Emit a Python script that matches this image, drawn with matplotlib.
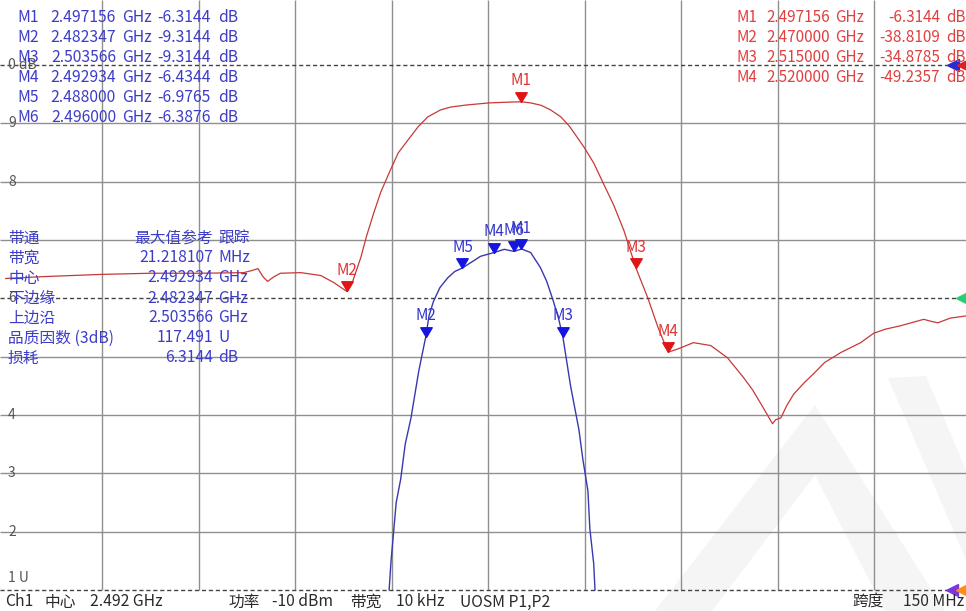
"""VNA screen capture: bandpass filter S21 (blue, 2 dB/div) and S11 (red, 10 dB/div)."""
import numpy as np
import matplotlib
matplotlib.use("Agg")
import matplotlib.pyplot as plt
from matplotlib.patches import Polygon

plt.rcParams['font.family'] = ['Noto Sans CJK SC', 'DejaVu Sans']

# --- data ---------------------------------------------------------------------
CENTER_MHZ = 2492.0
SPAN_MHZ = 150.0

# red trace (reflection), MHz / dB
red_f = [2417.0, 2422.4, 2431.8, 2439.5, 2447.3, 2454.0, 2455.4, 2456.2, 2457.0,
         2457.7, 2458.7, 2459.7, 2462.9, 2466.0, 2468.0, 2470.0, 2470.9, 2472.2,
         2473.1, 2474.2, 2475.3, 2476.8, 2478.0, 2479.5, 2481.1, 2482.6, 2484.6,
         2486.2, 2488.6, 2492.1, 2495.6, 2497.2, 2498.6, 2500.2, 2501.7, 2503.3,
         2504.7, 2506.9, 2508.4, 2509.9, 2511.5, 2513.1, 2515.0, 2516.8, 2518.4,
         2519.4, 2520.0, 2520.9, 2521.9, 2523.9, 2526.6, 2529.2, 2531.7, 2533.1,
         2534.4, 2535.3, 2536.2, 2536.7, 2537.5, 2538.4, 2539.5, 2541.1, 2542.6,
         2544.3, 2546.8, 2549.9, 2551.9, 2553.7, 2556.1, 2558.4, 2559.7, 2560.7,
         2561.9, 2563.8, 2567.0]
red_db = [-36.6, -36.3, -35.9, -35.7, -35.7, -35.6, -35.2, -34.9, -36.3,
          -37.1, -36.3, -35.7, -35.6, -36.1, -37.3, -38.8, -37.2, -33.0,
          -29.3, -25.4, -21.8, -18.0, -15.1, -12.9, -10.6, -8.9, -7.7,
          -7.2, -6.86, -6.5, -6.35, -6.31, -6.5, -6.9, -7.7, -8.9,
          -10.6, -14.1, -16.8, -20.3, -24.0, -28.4, -34.9, -39.9, -45.0,
          -47.7, -49.2, -48.9, -48.5, -47.6, -48.1, -50.2, -53.6, -55.7,
          -58.1, -59.8, -61.5, -60.8, -60.5, -58.4, -56.4, -54.5, -52.9,
          -51.0, -49.3, -47.6, -46.0, -45.3, -44.7, -44.0, -43.6, -43.9,
          -44.2, -43.4, -42.9]

# blue trace (transmission), MHz / dB
blue_f = [2476.6, 2476.9, 2477.3, 2477.7, 2478.4, 2479.1, 2480.0, 2481.2, 2482.3,
          2482.8, 2483.5, 2484.5, 2485.7, 2486.8, 2488.0, 2490.8, 2492.9, 2494.5,
          2496.0, 2497.2, 2498.6, 2500.1, 2501.1, 2502.1, 2502.9, 2503.6, 2504.8,
          2506.1, 2506.7, 2507.5, 2507.8, 2508.4, 2508.6]
blue_db = [-18.0, -17.0, -16.0, -15.0, -14.2, -13.0, -12.1, -10.5, -9.31,
           -8.6, -8.1, -7.63, -7.3, -7.08, -6.96, -6.56, -6.43, -6.32,
           -6.39, -6.31, -6.43, -6.94, -7.42, -8.08, -8.66, -9.31, -11.0,
           -12.5, -13.5, -14.6, -15.9, -17.1, -18.0]

blue_mk_names = ["M1", "M2", "M3", "M4", "M5", "M6"]
blue_mk_f = ["2.497156", "2.482347", "2.503566", "2.492934", "2.488000", "2.496000"]
blue_mk_db = ["-6.3144", "-9.3144", "-9.3144", "-6.4344", "-6.9765", "-6.3876"]

red_mk_names = ["M1", "M2", "M3", "M4"]
red_mk_f = ["2.497156", "2.470000", "2.515000", "2.520000"]
red_mk_db = ["-6.3144", "-38.8109", "-34.8785", "-49.2357"]

bw_labels = ["带通", "带宽", "中心", "下边缘", "上边沿", "品质因数 (3dB)", "损耗"]
bw_values = ["最大值参考", "21.218107", "2.492934", "2.482347", "2.503566", "117.491", "6.3144"]
bw_units = ["跟踪", "MHz", "GHz", "GHz", "GHz", "U", "dB"]

scale_labels = ["0 dB", "9", "8", "6", "4", "3", "2", "1 U"]
scale_rows = [0, 1, 2, 4, 6, 7, 8, 9]

# --- screen geometry ------------------------------------------------------------
W, H = 966, 611
X0 = 5.7                 # pixel of the left grid edge
PX_DIV_X = 96.5
Y_REF = 65.0             # pixel of the 0 dB reference line
PX_DIV_Y = 58.33
RED_DIV, BLUE_DIV = 10.0, 2.0
FS = 11.3

f_lo = CENTER_MHZ - SPAN_MHZ / 2
mhz_px = PX_DIV_X / (SPAN_MHZ / 10)

def px2f(x):
    return f_lo + (x - X0) / mhz_px

def py2red(y):
    return -(y - Y_REF) / PX_DIV_Y * RED_DIV

RED_C = '#c83838'
BLUE_C = '#3838b0'
GRID_C = '#8f8f8f'

fig = plt.figure(figsize=(W / 100, H / 100), dpi=100)
ax = fig.add_axes([0, 0, 1, 1])
ax.set_xlim(px2f(0), px2f(W))
ax.set_ylim(py2red(H), py2red(0))
ax.axis('off')

ax2 = ax.twinx()
ax2.set_position([0, 0, 1, 1])
ax2.set_ylim(-(H - Y_REF) / PX_DIV_Y * BLUE_DIV, Y_REF / PX_DIV_Y * BLUE_DIV)
ax2.axis('off')

y_top = ax.get_ylim()[1]
y_bot = -9 * RED_DIV

# faint watermark in the lower right corner
for shape in ([(815, 405), (655, 611), (712, 611), (815, 475), (885, 611), (945, 611)],
              [(888, 378), (926, 376), (966, 470), (966, 560)]):
    ax.add_patch(Polygon([(px2f(x), py2red(y)) for x, y in shape], closed=True,
                         fc='#f5f5f5', ec='none', zorder=0))

# graticule
for k in range(1, 10):
    ax.vlines(f_lo + k * SPAN_MHZ / 10, y_bot, y_top, color=GRID_C, lw=1.0, zorder=1)
for k in range(1, 9):
    if k == 4:
        continue
    ax.hlines(-k * RED_DIV, ax.get_xlim()[0], ax.get_xlim()[1], color=GRID_C, lw=1.0, zorder=1)
for yy in (0, -4 * RED_DIV, y_bot):
    ax.hlines(yy, ax.get_xlim()[0], ax.get_xlim()[1], color='#444444', lw=1.0,
              linestyles=(0, (3, 2)), zorder=2)

# traces
ax.plot(red_f, red_db, color=RED_C, lw=0.9, zorder=3)
ax2.plot(blue_f, blue_db, color=BLUE_C, lw=1.0, zorder=3)

# marker triangles (tip on the trace)
tri = [(0, 0), (-1, 1.7), (1, 1.7), (0, 0)]
for name, f, d in zip(red_mk_names, red_mk_f, red_mk_db):
    x = float(f) * 1000
    ax.plot(x, float(d), marker=tri, ms=14, color='#e01515', mec='#e01515', zorder=5)
    ax.annotate(name, (x, float(d)), xytext=(0, 15), textcoords='offset points',
                ha='center', va='center', color='#e03535', fontsize=11, zorder=6)
for name, f, d in zip(blue_mk_names, blue_mk_f, blue_mk_db):
    x = float(f) * 1000
    ax2.plot(x, float(d), marker=tri, ms=14, color='#1515e0', mec='#1515e0', zorder=5)
    ax2.annotate(name, (x, float(d)), xytext=(0, 15), textcoords='offset points',
                 ha='center', va='center', color='#3535d0', fontsize=11, zorder=6)

# reference arrows on the right edge
arrows = [(953, 65, '#2b2bd0'), (963, 65, '#e02020'), (962, 298, '#25d070'),
          (952, 590, '#7a35e0'), (962, 590, '#ff8c10')]
for x, y, c in arrows:
    fig.add_artist(plt.Line2D([x / W], [1 - y / H], marker='<', ms=9, color=c,
                              mec=c, transform=fig.transFigure))

def t(x, y, s, **kw):
    kw.setdefault('fontsize', FS)
    kw.setdefault('va', 'center')
    fig.text(x / W, 1 - y / H, s, **kw)

# scale labels on the left
for lab, row in zip(scale_labels, scale_rows):
    y = Y_REF + row * PX_DIV_Y
    if lab == "1 U":
        y -= 12
    t(8, y, lab, color='#555555', fontsize=10)

# blue marker table (top left)
for i, (n, f, d) in enumerate(zip(blue_mk_names, blue_mk_f, blue_mk_db)):
    y = 18 + i * 20
    t(17, y, n, color='#3c3cc8')
    t(116, y, f, color='#3c3cc8', ha='right')
    t(122, y, "GHz", color='#3c3cc8')
    t(211, y, d, color='#3c3cc8', ha='right')
    t(218, y, "dB", color='#3c3cc8')

# red marker table (top right)
for i, (n, f, d) in enumerate(zip(red_mk_names, red_mk_f, red_mk_db)):
    y = 18 + i * 20
    t(736, y, n, color='#e04040', fontsize=11)
    t(830, y, f, color='#e04040', ha='right', fontsize=11)
    t(835, y, "GHz", color='#e04040', fontsize=11)
    t(940, y, d, color='#e04040', ha='right', fontsize=11)
    t(946, y, "dB", color='#e04040', fontsize=11)

# bandwidth search block
for i, (lab, v, u) in enumerate(zip(bw_labels, bw_values, bw_units)):
    y = 238 + i * 20
    t(8, y, lab, color='#3c3cc8')
    t(213, y, v, color='#3c3cc8', ha='right')
    t(218, y, u, color='#3c3cc8')

# status bar
st = dict(color='#2a2a2a', fontsize=11.3)
t(5, 602, "Ch1", **st)
t(45, 602, "中心", **st)
t(90, 602, "2.492 GHz", **st)
t(228, 602, "功率", **st)
t(272, 602, "-10 dBm", **st)
t(350, 602, "带宽", **st)
t(396, 602, "10 kHz", **st)
t(460, 602, "UOSM P1,P2", **st)
t(852, 602, "跨度", **st)
t(964, 602, "150 MHz", ha='right', **st)

fig.savefig("out.png", dpi=100)
